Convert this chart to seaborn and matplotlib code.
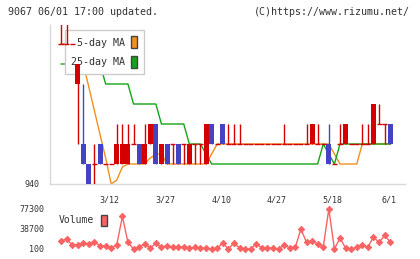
import numpy as np
import matplotlib
matplotlib.use("Agg")
import matplotlib.pyplot as plt
from matplotlib.patches import Patch
import seaborn as sns

# ローソク足データ（9067, 日足 60本）
opens = [947, 947, 947, 945, 942, 941, 941, 942, 941, 941,
         941, 941, 941, 942, 942, 941, 942, 943, 941, 942,
         942, 942, 942, 941, 942, 942, 941, 943, 942, 943,
         942, 942, 942, 942, 942, 942, 942, 942, 942, 942,
         942, 942, 942, 942, 942, 942, 942, 942, 942, 941,
         942, 942, 942, 942, 942, 942, 942, 943, 943, 943]
closes = [947, 947, 947, 946, 941, 940, 941, 941, 941, 941,
          942, 942, 942, 942, 941, 942, 943, 941, 942, 941,
          942, 941, 942, 942, 942, 942, 943, 942, 942, 942,
          942, 942, 942, 942, 942, 942, 942, 942, 942, 942,
          942, 942, 942, 942, 942, 943, 942, 942, 941, 941,
          942, 943, 942, 942, 942, 942, 944, 943, 943, 942]
highs = [949, 949, 947, 946, 945, 941, 942, 942, 941, 941,
         943, 943, 943, 943, 942, 943, 943, 943, 942, 942,
         942, 942, 942, 942, 942, 942, 943, 943, 942, 943,
         943, 943, 943, 942, 942, 942, 942, 942, 942, 942,
         943, 942, 942, 942, 943, 943, 943, 942, 943, 941,
         943, 943, 942, 942, 943, 943, 944, 944, 943, 943]
lows = [947, 947, 947, 942, 941, 940, 940, 941, 941, 941,
        941, 941, 941, 942, 941, 941, 942, 941, 941, 941,
        941, 941, 941, 941, 941, 941, 941, 942, 942, 942,
        942, 942, 942, 942, 942, 942, 942, 942, 942, 942,
        942, 942, 942, 942, 942, 942, 942, 942, 941, 941,
        942, 942, 942, 942, 942, 942, 942, 943, 942, 942]

# 移動平均（チャートから読み取り）
ma5 = [947, 947, 947, 946.8, 946, 944.83, 943.65, 942.47, 941.3, 940.0,
       940.2, 940.85, 941, 941, 941, 941, 941.3, 941.5, 941.5, 941,
       941, 941, 941, 941, 941, 941, 941, 941.5, 942, 942,
       942, 942, 942, 942, 942, 942, 942, 942, 942, 942,
       942, 942, 942, 942, 942, 942, 942, 942, 942, 941.5,
       941, 941, 941, 941, 942, 942, 942, 942, 942, 942]
ma25 = [946, 946, 946, 946, 946, 946, 946, 946, 945, 945,
        945, 945, 945, 944, 944, 944, 944, 944, 943, 943,
        943, 943, 943, 942, 942, 942, 941.5, 941, 941, 941,
        941, 941, 941, 941, 941, 941, 941, 941, 941, 941,
        941, 941, 941, 941, 941, 941, 941, 942, 941.5, 941,
        942, 942, 942, 942, 942, 942, 942, 942, 942, 942]

# 出来高
volume = [16100, 19300, 8300, 8300, 11600, 10200, 13500, 6400, 6400, 2000,
          8300, 63000, 12800, 100, 3900, 10200, 2000, 11600, 3200, 6400,
          3900, 3900, 3900, 2000, 3200, 2000, 2000, 100, 2000, 11600,
          100, 11600, 2000, 100, 100, 10200, 2000, 2000, 2000, 100,
          8300, 2000, 3900, 38700, 12800, 14700, 10200, 3900, 77300, 100,
          21300, 2000, 100, 3900, 8300, 3900, 23200, 12800, 26300, 13500]

date_labels = ["3/12", "3/27", "4/10", "4/27", "5/18", "6/1"]
date_index = [8, 18, 28, 38, 48, 58]

sns.set_style("white")
plt.rcParams['font.family'] = ['DejaVu Sans Mono']

RED = '#d40000'
BLUE = '#4343c3'
ORANGE = '#f0901e'
GREEN = '#14a514'
VOLC = '#f86262'
GRID = '#d9d9d9'
TXT = '#333333'

fig = plt.figure(figsize=(4.2, 2.59), dpi=100)
ax = fig.add_axes([50 / 420, 75 / 259, 355 / 420, 159 / 259])
axv = fig.add_axes([50 / 420, 6 / 259, 355 / 420, 50 / 259])

idx = np.arange(len(opens))
o = np.array(opens)
c = np.array(closes)
cols = np.where(c >= o, RED, BLUE)

# 移動平均線
sns.lineplot(x=idx, y=ma5, ax=ax, color=ORANGE, lw=1, zorder=2)
sns.lineplot(x=idx, y=ma25, ax=ax, color=GREEN, lw=1, zorder=2.1)

# ローソク足
ax.vlines(idx, lows, highs, colors=cols, lw=1, zorder=4)
body = o != c
ax.bar(idx[body], np.abs(c - o)[body], bottom=np.minimum(o, c)[body],
       width=0.9, color=cols[body], linewidth=0, zorder=4)
ax.hlines(c[~body], idx[~body] - 0.45, idx[~body] + 0.45,
          colors=cols[~body], lw=1, zorder=4)

ax.set_xlim(-1.97, 61.65)
ax.set_ylim(940, 947.95)
for s in ['top', 'right']:
    ax.spines[s].set_visible(False)
for s in ['left', 'bottom']:
    ax.spines[s].set_color(GRID)
    ax.spines[s].set_linewidth(1)
ax.set_yticks([940])
ax.set_yticklabels(['940'], fontsize=6, color=TXT)
ax.tick_params(axis='y', length=8 * 0.72, width=0.72, color=GRID, pad=2)
ax.set_xticks(np.linspace(-1.97, 61.65, 12))
ax.set_xticklabels([])
ax.tick_params(axis='x', which='major', direction='inout', length=10 * 0.72,
               width=0.72, color=GRID)
ax.set_xticks(np.array(date_index) + 0.7, minor=True)
ax.set_xticklabels(date_labels, minor=True, fontsize=6, color=TXT)
ax.tick_params(axis='x', which='minor', length=0, pad=8)
ax.set_xlabel('')
ax.set_ylabel('')

leg = ax.legend(handles=[Patch(facecolor=ORANGE, edgecolor='#444444', label='5-day MA'),
                         Patch(facecolor=GREEN, edgecolor='#444444', label='25-day MA')],
                loc='upper left', bbox_to_anchor=(0.042, 0.969), borderaxespad=0,
                fontsize=7.2, markerfirst=False, handlelength=0.6, handleheight=1.45,
                handletextpad=0.6, labelspacing=0.75, borderpad=0.65,
                fancybox=False, framealpha=1, edgecolor='#cccccc', facecolor='white')
leg.get_frame().set_linewidth(1)
leg.set_zorder(3)
for t in leg.get_texts():
    t.set_color(TXT)

# 出来高
sns.lineplot(x=idx, y=volume, ax=axv, color=VOLC, lw=1, marker='D',
             markersize=3.3, markeredgewidth=0.6, markeredgecolor=VOLC)
axv.set_xlim(-1.97, 61.65)
axv.set_ylim(-7620, 88880)
axv.set_yticks([100, 38700, 77300])
axv.set_yticklabels(['100', '38700', '77300'], fontsize=6, color=TXT)
axv.tick_params(axis='y', length=0, pad=4.3)
axv.set_xticks([])
axv.set_xlabel('')
axv.set_ylabel('')
for s in axv.spines.values():
    s.set_visible(False)
vleg = axv.legend(handles=[Patch(facecolor=VOLC, edgecolor='#444444', label='Volume')],
                  loc='upper left', bbox_to_anchor=(0.025, 0.77), borderaxespad=0,
                  borderpad=0, fontsize=7, markerfirst=False, handlelength=0.65,
                  handleheight=1.45, handletextpad=0.7, frameon=False)
for t in vleg.get_texts():
    t.set_color(TXT)

fig.text(8 / 420, 1 - 12 / 259, '9067 06/01 17:00 updated.', fontsize=7.2,
         color=TXT, va='center', ha='left')
fig.text(410 / 420, 1 - 12 / 259, '(C)https://www.rizumu.net/', fontsize=7.2,
         color=TXT, va='center', ha='right')

fig.savefig('out.png', dpi=100)
